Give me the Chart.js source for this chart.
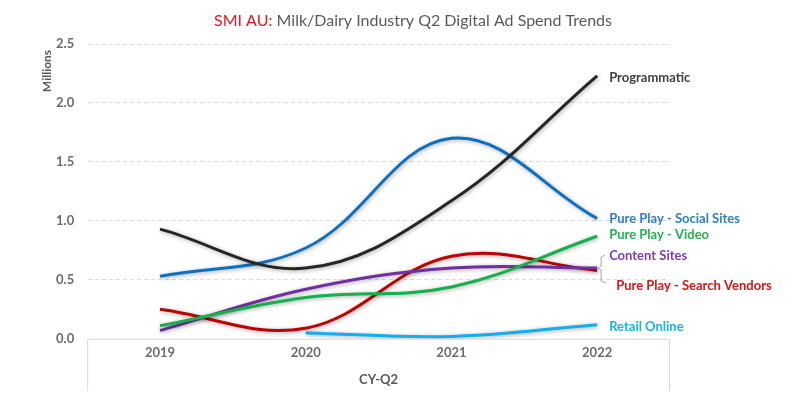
<!DOCTYPE html>
<html>
<head>
<meta charset="utf-8">
<script src="https://cdn.jsdelivr.net/npm/chart.js@4/dist/chart.umd.min.js"></script>
<style>
  html, body { margin: 0; padding: 0; background: #fff; }
  #wrap { width: 800px; height: 410px; }
</style>
</head>
<body>
<div id="wrap"><canvas id="chart"></canvas></div>
<script>
// === datos ===
const years = ['2019', '2020', '2021', '2022'];
const programmatic = [0.93, 0.60, 1.17, 2.23];
const socialSites = [0.53, 0.77, 1.70, 1.02];
const video = [0.11, 0.35, 0.44, 0.87];
const contentSites = [0.07, 0.42, 0.60, 0.60];
const searchVendors = [0.25, 0.09, 0.70, 0.58];
const retailOnline = [null, 0.05, 0.02, 0.12];
const yTicks = [0, 0.5, 1.0, 1.5, 2.0, 2.5];

const seriesNames = ['Programmatic', 'Pure Play - Social Sites', 'Pure Play - Video',
  'Content Sites', 'Pure Play - Search Vendors', 'Retail Online'];
const seriesValues = [programmatic, socialSites, video, contentSites, searchVendors, retailOnline];
const lineColors = ['#262626', '#0A70C4', '#13B04C', '#7030A0', '#C00000', '#10B0EE'];
const labelColors = ['#404040', '#2E7DCC', '#22B24C', '#7A3FB0', '#D01818', '#19B2EE'];
// desplazamiento vertical de cada etiqueta respecto al ultimo punto
const labelShift = [2, 0, -1, -12, 15, 2];
const labelIndent = [12, 12, 12, 12, 19, 12];

const FONT = 'Lato, "Open Sans", sans-serif';

// sombra suave debajo de cada linea
const lineShadow = {
  id: 'lineShadow',
  beforeDatasetDraw(chart) {
    const ctx = chart.ctx;
    ctx.save();
    ctx.shadowColor = 'rgba(0,0,0,0.35)';
    ctx.shadowBlur = 4;
    ctx.shadowOffsetX = 1;
    ctx.shadowOffsetY = 1;
  },
  afterDatasetDraw(chart) {
    chart.ctx.restore();
  }
};

// titulo en dos colores, titulo del eje y, caja del eje x, etiquetas
const extras = {
  id: 'extras',
  beforeDatasetsDraw(chart) {
    const ctx = chart.ctx;
    const a = chart.chartArea;
    ctx.save();
    ctx.strokeStyle = '#D9D9D9';
    ctx.lineWidth = 1;
    ctx.beginPath();
    ctx.moveTo(a.left + 0.5, a.bottom + 52);
    ctx.lineTo(a.left + 0.5, a.bottom + 0.5);
    ctx.lineTo(a.right - 0.5, a.bottom + 0.5);
    ctx.lineTo(a.right - 0.5, a.bottom + 52);
    ctx.stroke();
    ctx.restore();
  },
  afterDraw(chart) {
    const ctx = chart.ctx;
    ctx.save();

    // titulo
    ctx.font = '16px ' + FONT;
    ctx.textBaseline = 'middle';
    const partA = 'SMI AU: ';
    const partB = 'Milk/Dairy Industry Q2 Digital Ad Spend Trends';
    const wA = ctx.measureText(partA).width;
    const wB = ctx.measureText(partB).width;
    let x0 = 413 - (wA + wB) / 2;
    ctx.fillStyle = '#E8161E';
    ctx.textAlign = 'left';
    ctx.fillText(partA, x0, 21);
    ctx.fillStyle = '#595959';
    ctx.fillText(partB, x0 + wA, 21);

    // titulo eje y
    ctx.save();
    ctx.translate(47, 71);
    ctx.rotate(-Math.PI / 2);
    ctx.font = 'bold 12px ' + FONT;
    ctx.fillStyle = '#595959';
    ctx.textAlign = 'center';
    ctx.fillText('Millions', 0, 0);
    ctx.restore();

    // etiquetas al final de cada linea
    ctx.font = 'bold 13px ' + FONT;
    ctx.textAlign = 'left';
    seriesNames.forEach((name, i) => {
      const meta = chart.getDatasetMeta(i);
      const pt = meta.data[meta.data.length - 1];
      ctx.fillStyle = labelColors[i];
      ctx.fillText(name, pt.x + labelIndent[i], pt.y + labelShift[i]);
    });

    // llave entre Content Sites y Search Vendors
    const end = chart.getDatasetMeta(3).data[3];
    ctx.strokeStyle = '#A6A6A6';
    ctx.lineWidth = 1;
    ctx.beginPath();
    ctx.moveTo(end.x + 8, end.y - 13);
    ctx.lineTo(end.x + 4, end.y - 11);
    ctx.lineTo(end.x + 4, end.y - 2);
    ctx.lineTo(end.x + 1, end.y);
    ctx.lineTo(end.x + 4, end.y + 2);
    ctx.lineTo(end.x + 4, end.y + 13);
    ctx.lineTo(end.x + 9, end.y + 15);
    ctx.stroke();

    ctx.restore();
  }
};

const datasets = seriesNames.map((name, i) => ({
  label: name,
  data: seriesValues[i],
  borderColor: lineColors[i],
  backgroundColor: lineColors[i],
  borderWidth: 3,
  pointRadius: 0,
  tension: 0.38,
  fill: false,
  spanGaps: false
}));

new Chart(document.getElementById('chart'), {
  type: 'line',
  data: { labels: years, datasets: datasets },
  options: {
    responsive: true,
    maintainAspectRatio: false,
    animation: false,
    layout: { padding: { top: 44, right: 130, left: 43, bottom: 18 } },
    plugins: {
      legend: { display: false },
      tooltip: { enabled: false },
      title: { display: false }
    },
    scales: {
      x: {
        offset: true,
        grid: { display: false, drawTicks: false },
        border: { display: false },
        ticks: {
          font: { family: FONT, size: 13, weight: 'bold' },
          color: '#6B6B6B',
          padding: 6
        },
        title: {
          display: true,
          text: 'CY-Q2',
          font: { family: FONT, size: 13, weight: 'bold' },
          color: '#595959',
          padding: { top: 6, bottom: 4 }
        }
      },
      y: {
        min: 0,
        max: 2.5,
        afterBuildTicks: axis => { axis.ticks = yTicks.map(v => ({ value: v })); },
        grid: {
          color: ctx => ctx.tick && ctx.tick.value === 0 ? 'rgba(0,0,0,0)' : '#DADADA',
          drawTicks: false
        },
        border: { display: true, color: 'rgba(0,0,0,0)', dash: [4, 3] },
        ticks: {
          font: { family: FONT, size: 13, weight: 'bold' },
          color: '#6B6B6B',
          padding: 13,
          callback: v => v.toFixed(1)
        }
      }
    }
  },
  plugins: [lineShadow, extras]
});
</script>
</body>
</html>
